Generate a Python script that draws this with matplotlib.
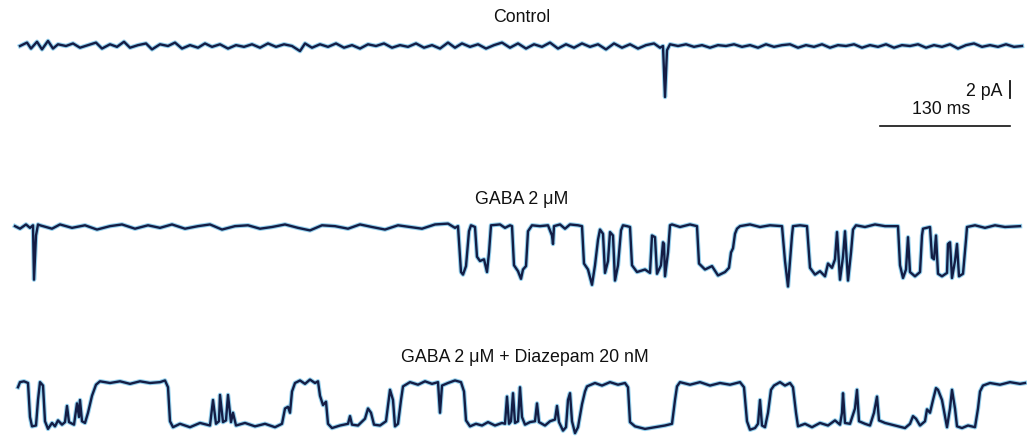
import numpy as np
import matplotlib.pyplot as plt

# single-channel current traces
# time in ms, current in pA (0 = closed level, openings go negative)

control_t = [20, 27, 31, 37, 42, 48, 53, 58, 66, 73, 80, 88, 96, 102, 110, 117, 124, 130, 138, 146,
             152, 160, 168, 175, 182, 190, 198, 205, 212, 220, 228, 236, 244, 252, 260, 268, 276, 284,
             292, 300, 305, 312, 320, 328, 336, 344, 352, 360, 368, 376, 384, 392, 400, 408, 416, 424,
             432, 440, 448, 455, 462, 470, 478, 486, 494, 502, 510, 518, 526, 534, 542, 550, 558, 566,
             574, 582, 590, 598, 606, 614, 622, 630, 638, 646, 654, 660, 663, 665, 667, 670, 678, 686,
             694, 702, 710, 718, 726, 734, 742, 750, 758, 766, 774, 782, 790, 798, 806, 814, 822, 830,
             838, 846, 854, 862, 870, 878, 886, 894, 902, 910, 918, 926, 934, 942, 950, 958, 966, 974,
             982, 990, 998, 1006, 1014, 1022]
control_i = [0.0, 0.4, -0.3, 0.5, -0.4, 0.6, -0.3, 0.2, 0.0, 0.3, -0.2, 0.1, 0.4, -0.3, 0.2, -0.1, 0.5, -0.2, 0.1, 0.3,
             -0.4, 0.2, 0.0, 0.4, -0.3, 0.1, -0.2, 0.3, -0.1, 0.2, -0.3, 0.1, -0.1, 0.2, -0.2, 0.3, -0.1, 0.2,
             0.0, -0.6, 0.3, -0.2, 0.2, -0.1, 0.3, -0.2, 0.1, -0.3, 0.2, 0.0, 0.3, -0.2, 0.1, -0.1, 0.3, -0.2,
             0.1, -0.3, 0.4, -0.2, 0.3, -0.1, 0.2, -0.3, 0.1, 0.4, -0.2, 0.3, -0.3, 0.2, -0.1, 0.4, -0.3, 0.2,
             -0.2, 0.3, -0.1, 0.2, -0.4, 0.3, -0.2, 0.2, -0.3, 0.1, 0.3, -0.2, 0.0, -6.0, -0.5, 0.2, 0.0, 0.2,
             -0.1, 0.1, -0.2, 0.1, 0.0, 0.2, -0.1, 0.1, -0.2, 0.2, -0.1, 0.1, 0.2, -0.2, 0.1, -0.1, 0.2, -0.2,
             0.1, 0.0, 0.2, -0.2, 0.1, -0.1, 0.2, -0.2, 0.1, 0.0, 0.2, -0.2, 0.1, -0.1, 0.2, -0.3, 0.1, 0.3,
             -0.1, 0.1, -0.1, 0.2, -0.1, 0.0]

gaba_t = [15, 20, 26, 30, 33, 34, 36, 38, 40, 52, 60, 72, 85, 97, 110, 122, 135, 148, 160, 172, 185, 198,
          210, 222, 235, 248, 260, 272, 285, 298, 310, 322, 335, 348, 360, 372, 385, 398, 410, 422, 435,
          448, 455, 458, 461, 463, 466, 469, 471, 475, 477, 480, 484, 487, 489, 491, 500, 505, 510, 512,
          514, 518, 521, 523, 526, 528, 532, 540, 548, 552, 553, 554, 560, 565, 570, 578, 582, 584, 588,
          592, 595, 598, 600, 603, 605, 608, 610, 613, 615, 618, 621, 623, 627, 630, 632, 637, 645, 650,
          652, 655, 657, 661, 663, 664, 665, 668, 670, 672, 680, 690, 697, 699, 705, 712, 718, 725, 729,
          731, 733, 735, 737, 740, 750, 760, 770, 782, 785, 788, 790, 792, 793, 800, 807, 810, 815, 820,
          825, 828, 832, 835, 837, 840, 843, 845, 848, 851, 853, 856, 865, 875, 885, 898, 900, 903, 906,
          908, 910, 915, 920, 922, 923, 930, 932, 934, 936, 938, 942, 947, 948, 950, 952, 955, 957, 959,
          963, 966, 967, 975, 985, 995, 1005, 1020]
gaba_i = [0.1, -0.2, 0.3, -0.1, 0.2, -6.2, -1.0, 0.3, 0.2, -0.2, 0.3, -0.1, 0.2, -0.3, 0.1, 0.3, -0.2, 0.2, -0.1, 0.3, -0.2, 0.1,
          0.3, -0.3, 0.1, 0.2, -0.2, 0.0, 0.3, -0.1, -0.4, 0.2, 0.1, -0.2, 0.3, 0.0, -0.3, 0.2, 0.0, -0.2, 0.3,
          0.4, -0.1, 0.1, -5.3, -5.6, -4.6, -0.5, 0.2, 0.0, -3.5, -4.0, -3.8, -5.3, -3.0, 0.2, 0.3, -0.1, 0.2, 0.1,
          -4.5, -5.2, -6.1, -5.0, -4.6, -0.5, 0.2, 0.1, 0.2, -1.0, -2.0, 0.1, 0.3, -0.2, 0.3, 0.2, 0.1, -4.3, -5.0,
          -6.8, -4.5, -1.5, -0.3, -0.8, -5.4, -4.0, -0.6, -1.0, -6.3, -4.5, -0.4, 0.2, 0.1, 0.0, -4.5, -5.3, -5.0, -5.4,
          -1.0, -1.2, -5.5, -4.5, -1.8, -2.0, -5.8, -3.0, 0.2, 0.3, 0.0, 0.3, 0.1, -4.3, -5.0, -4.6, -5.7, -5.3, -4.8,
          -3.0, -2.5, -0.8, -0.2, 0.1, 0.3, 0.0, 0.2, 0.1, -4.0, -7.0, -4.0, -1.0, 0.1, 0.2, 0.1, -4.8, -5.6, -5.2,
          -5.8, -4.3, -4.8, -3.8, -0.6, -6.2, -3.5, -0.5, -6.3, -3.0, -0.3, 0.2, 0.0, 0.3, 0.1, 0.1, -4.5, -6.0, -5.0,
          -1.2, -5.3, -5.8, -5.3, -1.0, -0.2, 0.0, -3.6, -3.8, -1.0, -5.5, -5.8, -5.4, -2.0, -1.8, -6.0, -4.0, -2.0, -5.8,
          -5.5, -1.5, 0.0, 0.2, -0.1, 0.2, 0.0, 0.1]

diaz_t = [18, 20, 24, 28, 30, 32, 36, 38, 40, 43, 45, 48, 52, 55, 58, 62, 65, 67, 69, 74, 77, 79, 80, 82,
          85, 88, 92, 96, 100, 110, 120, 130, 140, 150, 160, 165, 168, 170, 173, 180, 190, 200, 210, 213,
          216, 219, 220, 223, 226, 228, 231, 233, 236, 245, 255, 265, 275, 282, 285, 288, 290, 292, 295,
          300, 305, 310, 315, 318, 320, 323, 326, 328, 332,
          340, 348, 350, 352, 358, 365, 368, 371, 374, 380, 386, 390, 393, 395, 398, 401, 403, 410, 418,
          425, 432, 438, 440, 442, 448, 455, 461, 464, 466, 470, 476, 482, 488, 495, 502, 505, 507, 509,
          511, 513, 515, 518, 520, 522, 525, 530, 535, 537, 539, 545, 550, 555, 557, 559, 563, 566, 568,
          570, 572, 575, 578, 582, 585, 587, 595, 602, 610, 618, 625, 628, 630, 635, 645, 655, 665, 672,
          675, 677,
          680, 690, 700, 710, 720, 730, 740, 744, 747, 750, 755, 758, 760, 762, 765, 768, 771, 774, 780,
          785, 790, 793, 796, 798, 805, 812, 820, 828, 835, 840, 842, 843, 845, 850, 855, 857, 859, 865,
          870, 874, 877, 879, 885, 895, 905, 910, 913, 916, 920, 925, 927, 930, 933, 936, 938, 942, 947,
          950, 952, 955, 957, 962, 968, 975, 978, 980, 983, 990, 1000, 1010, 1020, 1025]
diaz_i = [-0.5, 0.1, 0.2, 0.0, -4.0, -5.1, -5.0, -2.0, 0.1, -0.3, -4.5, -5.4, -4.7, -5.1, -4.4, -4.9, -4.6, -2.7, -4.6, -4.9, -2.4, -4.0, -2.0, -4.5,
          -4.7, -3.5, -1.5, -0.2, 0.2, 0.0, 0.2, -0.1, 0.2, 0.0, 0.1, 0.3, -0.5, -4.5, -5.2, -4.8, -5.2, -4.7, -5.0, -2.0,
          -4.8, -4.5, -1.4, -4.6, -4.4, -1.4, -4.6, -3.5, -5.0, -4.7, -5.1, -4.8, -5.2, -4.8, -3.0, -2.8, -3.5, -1.0, 0.0,
          0.3, -0.1, 0.4, 0.0, 0.2, -1.5, -2.6, -2.2, -4.8, -5.3,
          -5.0, -4.8, -3.9, -4.9, -5.0, -4.2, -3.0, -3.5, -4.9, -5.0, -4.5, -0.8, -2.0, -5.1, -4.8, -2.0, -0.4, 0.1, -0.2,
          0.2, -0.1, 0.1, -3.5, -0.3, 0.0, 0.3, 0.1, -1.0, -4.4, -5.1, -4.8, -5.0, -4.6, -5.0, -4.7, -4.8, -1.6, -4.8,
          -4.5, -1.2, -4.7, -4.5, -0.5, -4.0, -4.9, -4.6, -4.5, -2.4, -4.6, -5.0, -4.5, -4.3, -2.7, -4.6, -5.6, -5.2, -2.0,
          -1.2, -4.5, -5.9, -5.2, -2.5, -1.0, -0.4, 0.0, -0.3, 0.1, -0.2, 0.0, -0.5, -4.6, -5.1, -5.4, -5.2, -5.0, -4.8,
          -2.0, -0.4,
          0.1, -0.2, 0.1, -0.3, 0.0, -0.2, 0.1, -0.5, -4.5, -5.5, -5.3, -4.8, -2.0, -5.0, -5.2, -3.5, -0.8, -0.3, 0.1,
          -0.3, 0.0, -0.5, -3.5, -5.1, -4.8, -5.2, -4.7, -5.0, -4.4, -4.9, -3.5, -1.2, -4.7, -4.8, -3.0, -0.8, -4.5, -4.8,
          -5.0, -3.5, -1.6, -4.4, -4.7, -5.0, -5.3, -4.8, -3.9, -4.2, -5.0, -4.5, -3.1, -3.5, -2.0, -0.6, -0.8, -2.0, -5.2,
          -3.0, -0.8, -3.0, -5.1, -5.3, -5.0, -5.2, -3.0, -1.0, -0.3, 0.0, -0.2, 0.1, -0.1, 0.0]

labels = ['Control', 'GABA 2 \u03bcM', 'GABA 2 \u03bcM + Diazepam 20 nM']
scale_ms = 130
scale_pa = 2

# layout: 8.5 px per pA, 1 px per ms
PX_PER_PA = 8.5
H_PX = 442
offsets = [-46 / PX_PER_PA, -227 / PX_PER_PA, -383 / PX_PER_PA]
label_y = [-17 / PX_PER_PA, -200 / PX_PER_PA, -358 / PX_PER_PA]

fig = plt.figure(figsize=(10.27, 4.42), dpi=100)
ax = fig.add_axes([0, 0, 1, 1])
ax.set_xlim(0, 1027)
ax.set_ylim(-H_PX / PX_PER_PA, 0)
ax.axis('off')

traces = [(control_t, control_i), (gaba_t, gaba_i), (diaz_t, diaz_i)]
for (t, i), off in zip(traces, offsets):
    y = np.array(i) + off
    # light cyan halo then dark core, like the scanned ink
    ax.plot(t, y, color='#4db0e0', lw=3.2, alpha=0.6, solid_joinstyle='round')
    ax.plot(t, y, color='#131d45', lw=1.7, solid_joinstyle='round')

font = dict(family=['Liberation Sans', 'DejaVu Sans'], fontsize=12.8, color='#111111')
ax.text(522, label_y[0], labels[0], ha='center', va='center', **font)
ax.text(522, label_y[1], labels[1], ha='center', va='center', **font)
ax.text(525, label_y[2], labels[2], ha='center', va='center', **font)

# scale bars
bar_x = 1010
bar_top = -81 / PX_PER_PA
ax.plot([bar_x, bar_x], [bar_top, bar_top - scale_pa], color='#111111', lw=1.3)
ax.text(1003, -91 / PX_PER_PA, f'{scale_pa} pA', ha='right', va='center', **font)
hbar_y = -126 / PX_PER_PA
ax.plot([bar_x - scale_ms, bar_x], [hbar_y, hbar_y], color='#111111', lw=1.2)
ax.text(941, -110 / PX_PER_PA, f'{scale_ms} ms', ha='center', va='center', **font)

fig.savefig('out.png', dpi=100, facecolor='white')
